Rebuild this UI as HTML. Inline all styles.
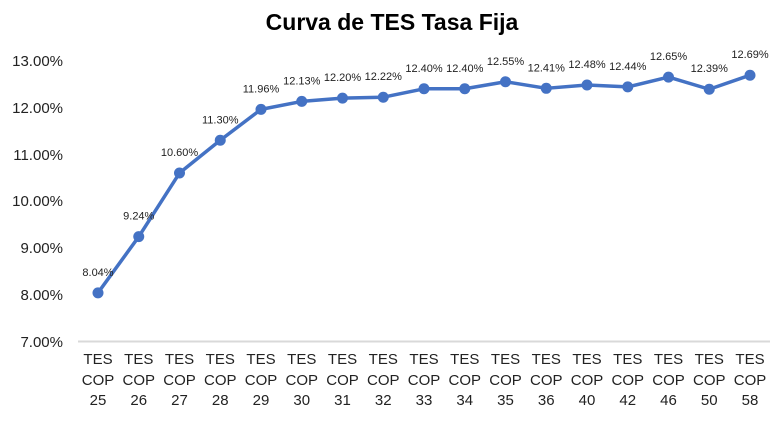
<!DOCTYPE html>
<html><head><meta charset="utf-8"><style>
html,body{margin:0;padding:0;background:#fff;}
svg{display:block;font-family:"Liberation Sans",sans-serif;}
</style></head><body>
<svg width="783" height="421" viewBox="0 0 783 421" xmlns="http://www.w3.org/2000/svg">
<text x="392" y="30" text-anchor="middle" font-size="23" font-weight="bold" fill="#000">Curva de TES Tasa Fija</text>
<g font-size="15" fill="#222" text-anchor="end">
<text x="63" y="66">13.00%</text>
<text x="63" y="113">12.00%</text>
<text x="63" y="160">11.00%</text>
<text x="63" y="206">10.00%</text>
<text x="63" y="253">9.00%</text>
<text x="63" y="300">8.00%</text>
<text x="63" y="347">7.00%</text>
</g>
<line x1="78" y1="341.5" x2="770" y2="341.5" stroke="#d9d9d9" stroke-width="2"/>
<g id="c"></g>
</svg>
<script>
var v=[8.04,9.24,10.60,11.30,11.96,12.13,12.20,12.22,12.40,12.40,12.55,12.41,12.48,12.44,12.65,12.39,12.69];
var n=["25","26","27","28","29","30","31","32","33","34","35","36","40","42","46","50","58"];
var g=document.getElementById("c"),s="",pts=[];
for(var i=0;i<v.length;i++){var x=98+i*40.75,y=341.5-(v[i]-7)*46.8;pts.push(x+","+y);}
s+='<polyline points="'+pts.join(" ")+'" fill="none" stroke="#4472c4" stroke-width="3.5" stroke-linejoin="round"/>';
for(var i=0;i<v.length;i++){var x=98+i*40.75,y=341.5-(v[i]-7)*46.8;
s+='<circle cx="'+x+'" cy="'+y+'" r="5.5" fill="#4472c4"/>';
s+='<text x="'+x+'" y="'+(y-17)+'" text-anchor="middle" font-size="11" fill="#222">'+v[i].toFixed(2)+'%</text>';
s+='<text x="'+x+'" y="364" text-anchor="middle" font-size="15" fill="#222">TES</text>';
s+='<text x="'+x+'" y="385" text-anchor="middle" font-size="15" fill="#222">COP</text>';
s+='<text x="'+x+'" y="405" text-anchor="middle" font-size="15" fill="#222">'+n[i]+'</text>';}
g.innerHTML=s;
</script>
</body></html>
